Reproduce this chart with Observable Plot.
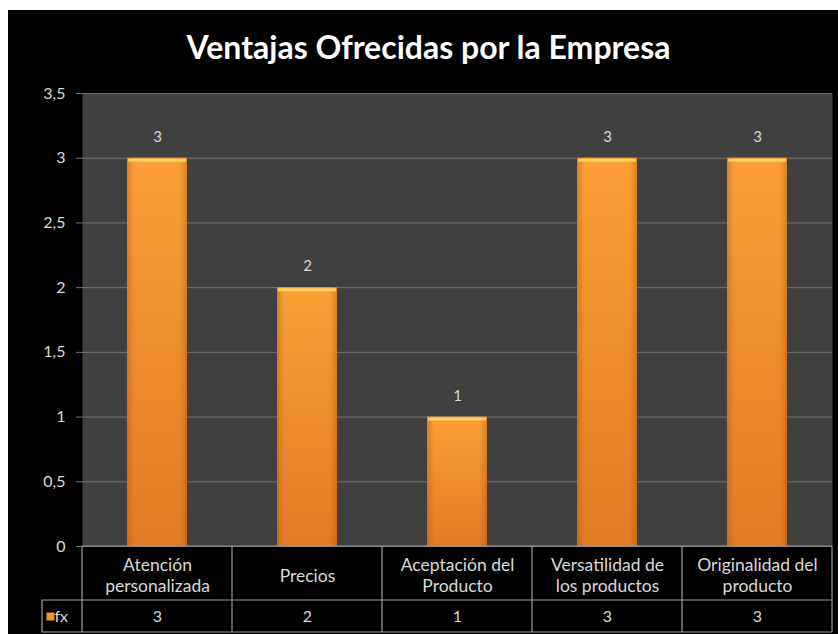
<!DOCTYPE html>
<html><head><meta charset="utf-8">
<script src="https://cdn.jsdelivr.net/npm/d3@7"></script>
<script src="https://cdn.jsdelivr.net/npm/@observablehq/plot@0.6"></script>
<style>
body{margin:0;background:#fff;}
#chart{position:absolute;left:8px;top:10px;}
</style></head><body><div id="chart"></div>
<script>
const title = "Ventajas Ofrecidas por la Empresa";
const categories = ["Atención\npersonalizada","Precios","Aceptación del\nProducto","Versatilidad de\nlos productos","Originalidad del\nproducto"];
const values = [3, 2, 1, 3, 3];
const seriesName = "fx";
const yTicks = [0, 0.5, 1, 1.5, 2, 2.5, 3, 3.5];

const data = categories.map((c, i) => ({category: c, value: values[i]}));
const fmt = d => String(d).replace(".", ",");
const textColor = "#d9d9d9";

const defs = () => {
  const g = d3.create("svg:defs");
  const v = g.append("linearGradient").attr("id", "barGrad").attr("x1", 0).attr("y1", 0).attr("x2", 0).attr("y2", 1);
  v.append("stop").attr("offset", "0%").attr("stop-color", "#FA9F35");
  v.append("stop").attr("offset", "100%").attr("stop-color", "#E27B25");
  const h = g.append("linearGradient").attr("id", "edgeGrad").attr("x1", 0).attr("y1", 0).attr("x2", 1).attr("y2", 0);
  h.append("stop").attr("offset", "0%").attr("stop-color", "#9a4a00").attr("stop-opacity", 0.35);
  h.append("stop").attr("offset", "12%").attr("stop-color", "#9a4a00").attr("stop-opacity", 0);
  h.append("stop").attr("offset", "88%").attr("stop-color", "#9a4a00").attr("stop-opacity", 0);
  h.append("stop").attr("offset", "100%").attr("stop-color", "#9a4a00").attr("stop-opacity", 0.35);
  return g.node();
};

const plot = Plot.plot({
  width: 830, height: 624,
  marginLeft: 74, marginRight: 6, marginTop: 83, marginBottom: 88,
  style: {background: "#000", fontFamily: "Lato, sans-serif", fontSize: "15px", color: textColor, overflow: "visible"},
  x: {domain: categories, padding: 0, axis: null},
  y: {domain: [0, 3.5], axis: null},
  marks: [
    defs,
    Plot.frame({fill: "#404040", stroke: null}),
    Plot.gridY(yTicks, {stroke: "#727272", strokeOpacity: 1, insetLeft: -6}),
    Plot.axisY(yTicks, {label: null, tickSize: 0, tickPadding: 17, tickFormat: fmt, fontSize: 16, fill: textColor}),
    Plot.barY(data, {x: "category", y: "value", fill: "url(#barGrad)", insetLeft: 45, insetRight: 45}),
    Plot.barY(data, {x: "category", y: "value", fill: "url(#edgeGrad)", insetLeft: 45, insetRight: 45}),
    Plot.tickY(data, {x: "category", y: "value", stroke: "#FFCF66", strokeWidth: 3, insetLeft: 46, insetRight: 46, dy: 2}),
    Plot.text(data, {x: "category", y: "value", text: d => String(d.value), dy: -21, fill: textColor, fontSize: 15}),
    Plot.text(data, {x: "category", text: "category", frameAnchor: "bottom", lineAnchor: "middle", dy: 28, fill: textColor, fontSize: 17.5, lineHeight: 1.25}),
    Plot.text(data, {x: "category", text: d => String(d.value), frameAnchor: "bottom", lineAnchor: "middle", dy: 70, fill: textColor, fontSize: 16}),
    Plot.dot([seriesName], {frameAnchor: "bottom-left", dx: -32, dy: 70, symbol: "square", r: 4.5, fill: "#F39330"}),
    Plot.text([seriesName], {frameAnchor: "bottom-left", lineAnchor: "middle", text: d => d, dx: -28, dy: 70, textAnchor: "start", fill: textColor, fontSize: 16}),
    Plot.text([title], {frameAnchor: "top", lineAnchor: "middle", text: d => d, dx: -29, dy: -45, fontSize: 32, fontWeight: "bold", fill: "#ffffff"})
  ]
});

// data table grid drawn from the plot's own scales
const sx = plot.scale("x"), sy = plot.scale("y");
const yTop = sy.apply(0), yMid = yTop + 54, yBot = yTop + 86;
const edges = categories.map(c => sx.apply(c));
edges.push(sx.apply(categories[categories.length - 1]) + sx.bandwidth);
const xL = edges[0], xR = edges[edges.length - 1], xLeg = xL - 40;
const svg = d3.select(plot);
const grid = svg.append("g").attr("stroke", "#9c9c9c").attr("stroke-width", 1.2);
const line = (x1, y1, x2, y2) => grid.append("line").attr("x1", x1).attr("y1", y1).attr("x2", x2).attr("y2", y2);
line(xL, yTop, xR, yTop);
line(xLeg, yMid, xR, yMid);
line(xLeg, yBot, xR, yBot);
line(xLeg, yMid, xLeg, yBot);
edges.forEach(x => line(x, yTop, x, yBot));

document.getElementById("chart").append(plot);
</script></body></html>
